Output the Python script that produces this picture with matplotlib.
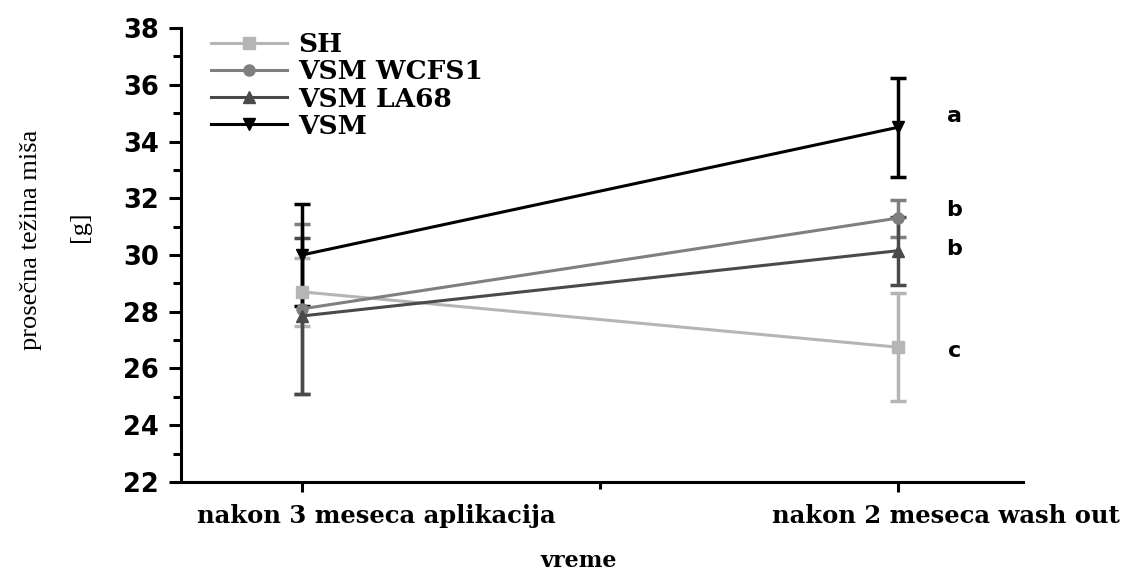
import numpy as np
import matplotlib
matplotlib.use('Agg')
import matplotlib.pyplot as plt
import matplotlib.transforms as mtransforms
from matplotlib.lines import Line2D
from matplotlib.ticker import MultipleLocator, FixedLocator

# data
categories = ['nakon 3 meseca aplikacija', 'nakon 2 meseca wash out']
groups = ['SH', 'VSM WCFS1', 'VSM LA68', 'VSM']
means = {
    'SH':        [28.7, 26.75],
    'VSM WCFS1': [28.1, 31.3],
    'VSM LA68':  [27.85, 30.15],
    'VSM':       [30.0, 34.5],
}
errors = {
    'SH':        [1.2, 1.9],
    'VSM WCFS1': [3.0, 0.65],
    'VSM LA68':  [2.75, 1.2],
    'VSM':       [1.8, 1.75],
}
letters = ['c', 'b', 'b', 'a']
letter_y = [26.6, 31.6, 30.2, 34.9]

colors = {'SH': '#b5b5b5', 'VSM WCFS1': '#7f7f7f', 'VSM LA68': '#4a4a4a', 'VSM': '#000000'}
markers = {'SH': 's', 'VSM WCFS1': 'o', 'VSM LA68': '^', 'VSM': 'v'}

fig = plt.figure(figsize=(11.24, 5.73), dpi=100)
ax = fig.add_axes([0.161, 0.159, 0.749, 0.792])

x = np.array([1, 2])
handles = []
for g in groups:
    ax.errorbar(x, means[g], yerr=errors[g], color=colors[g], marker=markers[g],
                markersize=8, linewidth=2.2, elinewidth=2.5, capsize=6, capthick=2.5)
    handles.append(Line2D([], [], color=colors[g], marker=markers[g],
                          markersize=8, linewidth=2.2, label=g))

for g, lab, ly in zip(groups, letters, letter_y):
    ax.text(2.095, ly, lab, fontsize=16, fontweight='bold', family='DejaVu Sans',
            ha='center', va='center')

ax.set_xlim(0.797, 2.21)
ax.set_ylim(22, 38)
ax.xaxis.set_major_locator(FixedLocator([1, 2]))
ax.xaxis.set_minor_locator(FixedLocator([1.5]))
ax.set_xticklabels(['', ''])
# category labels sit to the right of their ticks
trans = mtransforms.blended_transform_factory(ax.transData, ax.transAxes)
for xi, lab, dx in zip(x, categories, [0.74, 0.48]):
    ax.text(xi, 0, lab, ha='center', va='top', fontsize=17.5, fontweight='bold',
            family='DejaVu Serif',
            transform=trans + mtransforms.ScaledTranslation(dx, -0.22, fig.dpi_scale_trans))
ax.yaxis.set_major_locator(MultipleLocator(2))
ax.yaxis.set_minor_locator(MultipleLocator(1))
for t in ax.get_yticklabels():
    t.set_fontsize(18.5)
    t.set_fontweight('bold')
    t.set_family('DejaVu Sans')

for s in ['top', 'right']:
    ax.spines[s].set_visible(False)
for s in ['left', 'bottom']:
    ax.spines[s].set_linewidth(2.2)
ax.tick_params(axis='y', which='major', length=9, width=2.2, pad=7)
ax.tick_params(axis='y', which='minor', length=6, width=2.2)
ax.tick_params(axis='x', which='major', length=7, width=2.2)
ax.tick_params(axis='x', which='minor', length=5, width=2.2)

leg = ax.legend(handles=handles, loc='upper left', bbox_to_anchor=(0.007, 1.043),
                frameon=False, handlelength=2.9, labelspacing=0.08, handletextpad=0.42,
                prop={'family': 'DejaVu Serif', 'weight': 'bold', 'size': 19})

fig.text(0.028, 0.581, 'prosečna težina miša', rotation=90, ha='center', va='center',
         fontsize=19, family='Liberation Serif')
fig.text(0.071, 0.604, '[g]', rotation=90, ha='center', va='center',
         fontsize=19, family='Liberation Serif')
fig.text(0.515, 0.01, 'vreme', ha='center', va='baseline', fontsize=16,
         fontweight='bold', family='DejaVu Serif')

fig.savefig('out.png', dpi=100)
